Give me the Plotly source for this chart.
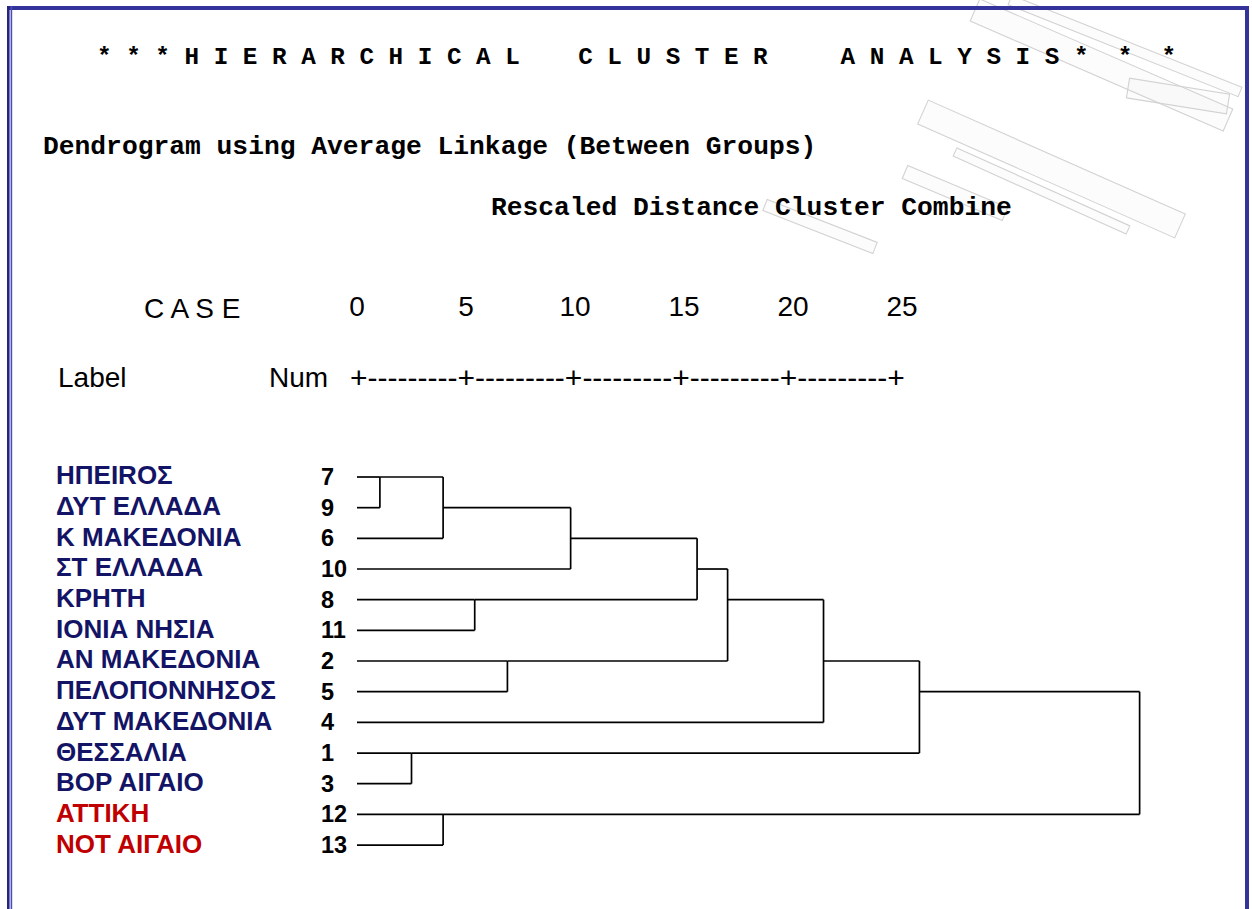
import math
import plotly.graph_objects as go

W, H = 1252, 909

# ---------------- data ----------------
case_labels = ["ΗΠΕΙRΟΣ", "ΔΥΤ ΕΛΛΑΔΑ", "Κ ΜΑΚΕΔΟΝΙΑ", "ΣΤ ΕΛΛΑΔΑ", "ΚΡΗΤΗ",
               "ΙΟΝΙΑ ΝΗΣΙΑ", "ΑΝ ΜΑΚΕΔΟΝΙΑ", "ΠΕΛΟΠΟΝΝΗΣΟΣ", "ΔΥΤ ΜΑΚΕΔΟΝΙΑ",
               "ΘΕΣΣΑΛΙΑ", "ΒΟΡ ΑΙΓΑΙΟ", "ΑΤΤΙΚΗ", "ΝΟΤ ΑΙΓΑΙΟ"]
case_nums = [7, 9, 6, 10, 8, 11, 2, 5, 4, 1, 3, 12, 13]
case_group = ["b"] * 11 + ["r"] * 2

# merges: node ids 0..12 are leaves (row order), merge k creates node 13+k
merge_left = [0, 9, 13, 11, 4, 6, 15, 19, 20, 21, 22, 23]
merge_right = [1, 10, 2, 12, 5, 7, 3, 17, 18, 8, 14, 16]
merge_dist = [1.05, 2.5, 3.95, 3.95, 5.4, 6.9, 9.8, 15.6, 17.0, 21.4, 25.8, 35.9]

tick_vals = [0, 5, 10, 15, 20, 25]
tick_text = ["0", "5", "10", "15", "20", "25"]

title_text = "* * * H I E R A R C H I C A L    C L U S T E R     A N A L Y S I S *  *  *"
subtitle1 = "Dendrogram using Average Linkage (Between Groups)"
subtitle2 = "Rescaled Distance Cluster Combine"
ruler_text = "+---------+---------+---------+---------+---------+"

# ---------------- geometry helpers ----------------
X0_PX, PX_PER_UNIT = 357.0, 21.8
ROW0_PX, PX_PER_ROW = 477.0, 30.67


def px(x):
    return x / W


def py(y):
    return 1 - y / H


# ---------------- build dendrogram segments ----------------
n = len(case_labels)
node_x = [0.0] * n
node_y = list(range(n))
xs, ys = [], []
for a, b, d in zip(merge_left, merge_right, merge_dist):
    ya, yb = node_y[a], node_y[b]
    xs += [node_x[a], d, None, node_x[b], d, None, d, d, None]
    ys += [ya, ya, None, yb, yb, None, ya, yb, None]
    node_x.append(d)
    node_y.append((ya + yb) // 2)

fig = go.Figure()
fig.add_trace(go.Scatter(x=xs, y=ys, mode="lines",
                         line=dict(color="black", width=1.7),
                         hoverinfo="skip", showlegend=False))

# ---------------- annotations ----------------
ann = []
mono = "Liberation Mono"
sans = "Liberation Sans"

ann.append(dict(text=title_text.replace(" ", "\u00a0"), x=px(95), y=py(58),
                xref="paper", yref="paper", xanchor="left", yanchor="middle",
                showarrow=False, font=dict(family=mono, size=24.3, color="black", weight="bold")))
ann.append(dict(text=subtitle1.replace(" ", "\u00a0"), x=px(41), y=py(147),
                xref="paper", yref="paper", xanchor="left", yanchor="middle",
                showarrow=False, font=dict(family=mono, size=26.3, color="black", weight="bold")))
ann.append(dict(text=subtitle2.replace(" ", "\u00a0"), x=px(489), y=py(208),
                xref="paper", yref="paper", xanchor="left", yanchor="middle",
                showarrow=False, font=dict(family=mono, size=26.3, color="black", weight="bold")))
ann.append(dict(text="C A S E", x=px(142), y=py(308),
                xref="paper", yref="paper", xanchor="left", yanchor="middle",
                showarrow=False, font=dict(family=sans, size=28, color="black")))
ann.append(dict(text="Label", x=px(56), y=py(378),
                xref="paper", yref="paper", xanchor="left", yanchor="middle",
                showarrow=False, font=dict(family=sans, size=28, color="black")))
ann.append(dict(text="Num", x=px(267), y=py(378),
                xref="paper", yref="paper", xanchor="left", yanchor="middle",
                showarrow=False, font=dict(family=sans, size=28, color="black")))
ann.append(dict(text=ruler_text, x=px(348), y=py(378),
                xref="paper", yref="paper", xanchor="left", yanchor="middle",
                showarrow=False, font=dict(family=sans, size=30, color="black")))

colors = {"b": "#141466", "r": "#c00000"}
for i, (lab, num, g) in enumerate(zip(case_labels, case_nums, case_group)):
    ann.append(dict(text=lab, x=px(54), y=i - 0.05, xref="paper", yref="y",
                    xanchor="left", yanchor="middle", showarrow=False,
                    font=dict(family=sans, size=26, color=colors[g], weight="bold")))
    ann.append(dict(text=str(num), x=px(319), y=i, xref="paper", yref="y",
                    xanchor="left", yanchor="middle", showarrow=False,
                    font=dict(family=sans, size=23.5, color="black", weight="bold")))

# ---------------- shapes ----------------
shapes = []


def rect(x0, y0, x1, y1, color):
    return dict(type="rect", xref="paper", yref="paper", x0=px(x0), x1=px(x1),
                y0=py(y1), y1=py(y0), line=dict(width=0), fillcolor=color, layer="above")


# faint watermark logo outline in the header area
def band(p1, p2, t):
    dx, dy = p2[0] - p1[0], p2[1] - p1[1]
    L = math.hypot(dx, dy)
    nx, ny = -dy / L * t / 2, dx / L * t / 2
    pts = [(p1[0] + nx, p1[1] + ny), (p2[0] + nx, p2[1] + ny),
           (p2[0] - nx, p2[1] - ny), (p1[0] - nx, p1[1] - ny)]
    path = "M " + " L ".join(f"{px(a):.5f},{py(b):.5f}" for a, b in pts) + " Z"
    return dict(type="path", xref="paper", yref="paper", path=path,
                line=dict(color="#d2d2d2", width=1.1), fillcolor="rgba(210,210,210,0.06)",
                layer="below")


shapes += [
    band((975, 10), (1228, 120), 24),
    band((1010, 0), (1240, 92), 10),
    band((923, 112), (1180, 226), 26),
    band((955, 152), (1128, 230), 9),
    band((1128, 88), (1228, 104), 20),
    band((905, 172), (1005, 214), 14),
    band((765, 205), (875, 248), 12),
]

shapes += [
    rect(7, 6, 1249, 10, "#33339a"),
    rect(7, 6, 9.6, H, "#26267e"),
    rect(10.6, 6, 12.2, H, "#4a4ab8"),
    rect(1245, 6, 1249, H, "#33339a"),
]

fig.update_layout(
    width=W, height=H,
    margin=dict(l=0, r=0, t=0, b=0),
    paper_bgcolor="white", plot_bgcolor="rgba(0,0,0,0)",
    showlegend=False,
    annotations=ann,
    shapes=shapes,
    xaxis=dict(range=[-X0_PX / PX_PER_UNIT, (W - X0_PX) / PX_PER_UNIT],
               showgrid=False, zeroline=False, showline=False, ticks="",
               tickvals=tick_vals, ticktext=tick_text, side="top",
               anchor="free", position=py(322),
               tickfont=dict(family=sans, size=28, color="black"),
               fixedrange=True),
    yaxis=dict(range=[(H - ROW0_PX) / PX_PER_ROW, -ROW0_PX / PX_PER_ROW],
               visible=False, fixedrange=True),
)

fig.write_html("out.html", config={"displayModeBar": False},
               post_script="document.body.style.margin='0';document.body.style.overflow='hidden';")
